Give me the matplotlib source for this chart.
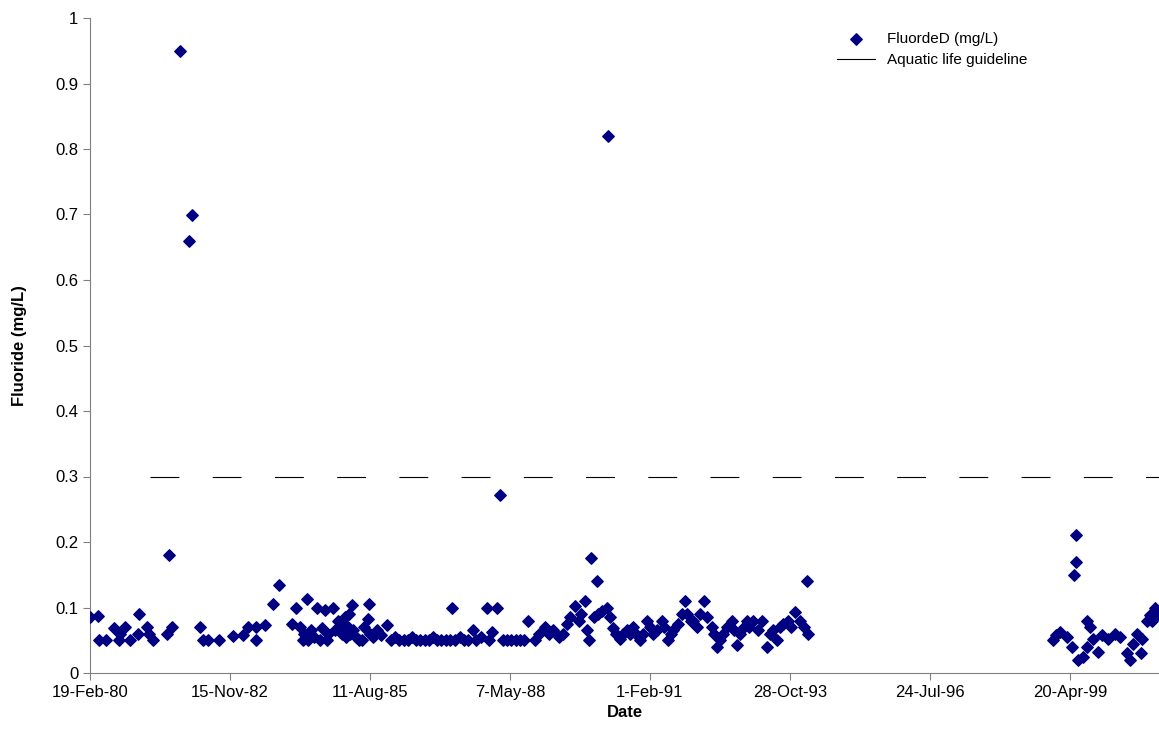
import numpy as np
import matplotlib.pyplot as plt

plt.rcParams['font.family'] = ['Liberation Sans', 'DejaVu Sans']

# days since 19-Feb-80
days = [0, 57, 64, 114, 171, 207, 214, 250, 286, 343, 350, 407, 421, 450, 550, 564, 586,
        643, 707, 729, 786, 807, 843, 921, 1021, 1093, 1129, 1186, 1186, 1250, 1307, 1350,
        1443, 1471, 1500, 1520, 1530, 1550, 1560, 1580, 1600, 1621, 1640, 1660, 1679, 1690,
        1700, 1736, 1750, 1770, 1780, 1800, 1810, 1820, 1830, 1840, 1850, 1860, 1871, 1880,
        1900, 1920, 1943, 1960, 1986, 1993, 2000, 2020, 2050, 2080, 2121, 2150, 2180, 2210,
        2240, 2270, 2300, 2330, 2360, 2390, 2420, 2450, 2480, 2510, 2540, 2570, 2586, 2610,
        2640, 2670, 2700, 2736, 2760, 2790, 2836, 2850, 2871, 2907, 2929, 2950, 2980, 3010,
        3040, 3070, 3100, 3129, 3179, 3210, 3250, 3280, 3307, 3350, 3380, 3407, 3429, 3464,
        3490, 3510, 3536, 3550, 3564, 3579, 3600, 3621, 3629, 3660, 3693, 3700, 3714, 3736,
        3760, 3786, 3810, 3836, 3860, 3879, 3900, 3929, 3950, 3979, 4000, 4021, 4050, 4086,
        4100, 4129, 4150, 4164, 4200, 4230, 4250, 4264, 4290, 4307, 4336, 4360, 4386, 4407,
        4443, 4460, 4479, 4500, 4520, 4550, 4586, 4600, 4621, 4643, 4670, 4693, 4710, 4736,
        4770, 4800, 4836, 4857, 4879, 4907, 4930, 4950, 4986, 5010, 5036, 5071, 5100, 5121,
        5129,
        6879, 6900, 6929, 6979, 7014, 7029, 7043, 7043, 7057, 7093, 7121, 7143, 7121, 7164,
        7200, 7229, 7271, 7321, 7357, 7407, 7429, 7450, 7479, 7507, 7514, 7550, 7571, 7586,
        7607, 7630]
fluoride = [0.086, 0.087, 0.05, 0.05, 0.069, 0.05, 0.06, 0.07, 0.05, 0.06, 0.09, 0.07, 0.06,
            0.05, 0.06, 0.18, 0.07, 0.95, 0.66, 0.7, 0.07, 0.05, 0.05, 0.05, 0.057, 0.058,
            0.07, 0.05, 0.07, 0.074, 0.105, 0.135, 0.075, 0.1, 0.07, 0.05, 0.06, 0.113, 0.05,
            0.065, 0.055, 0.1, 0.05, 0.068, 0.096, 0.05, 0.06, 0.1, 0.065, 0.08, 0.07, 0.06,
            0.075, 0.085, 0.055, 0.07, 0.09, 0.06, 0.104, 0.065, 0.055, 0.05, 0.05, 0.07,
            0.083, 0.106, 0.06, 0.055, 0.065, 0.058, 0.073, 0.05, 0.055, 0.05, 0.05, 0.05,
            0.055, 0.05, 0.05, 0.05, 0.05, 0.055, 0.05, 0.05, 0.05, 0.05, 0.1, 0.05, 0.055,
            0.05, 0.05, 0.065, 0.05, 0.055, 0.1, 0.05, 0.063, 0.1, 0.272, 0.05, 0.05, 0.05,
            0.05, 0.05, 0.05, 0.08, 0.05, 0.06, 0.07, 0.06, 0.065, 0.055, 0.06, 0.075, 0.085,
            0.103, 0.08, 0.09, 0.11, 0.065, 0.05, 0.175, 0.085, 0.14, 0.09, 0.095, 0.1, 0.82,
            0.085, 0.068, 0.06, 0.052, 0.06, 0.065, 0.06, 0.07, 0.06, 0.05, 0.06, 0.08, 0.07,
            0.06, 0.065, 0.08, 0.07, 0.05, 0.06, 0.065, 0.075, 0.09, 0.11, 0.09, 0.08, 0.08,
            0.07, 0.09, 0.11, 0.085, 0.07, 0.06, 0.04, 0.05, 0.06, 0.07, 0.08, 0.065, 0.042,
            0.06, 0.07, 0.08, 0.07, 0.08, 0.065, 0.08, 0.04, 0.06, 0.065, 0.05, 0.07, 0.075,
            0.08, 0.07, 0.093, 0.08, 0.07, 0.14, 0.06,
            0.05, 0.058, 0.063, 0.055, 0.04, 0.15, 0.21, 0.17, 0.02, 0.025, 0.08, 0.07, 0.04,
            0.052, 0.032, 0.058, 0.052, 0.06, 0.055, 0.03, 0.02, 0.045, 0.06, 0.03, 0.052,
            0.08, 0.088, 0.08, 0.1, 0.09]

guideline = 0.3
guide_start = 429
tick_days = [0, 1000, 2000, 3000, 4000, 5000, 6000, 7000]
tick_labels = ['19-Feb-80', '15-Nov-82', '11-Aug-85', '7-May-88', '1-Feb-91',
               '28-Oct-93', '24-Jul-96', '20-Apr-99']

fig = plt.figure(figsize=(11.59, 7.49), dpi=100)
ax = fig.add_axes([90/1159, 76/749, 1069/1159, 655/749])

ax.scatter(days, fluoride, marker='D', s=34, color='#000080', label='FluordeD (mg/L)', zorder=3)
ax.plot([guide_start, 7636], [guideline, guideline], color='black', lw=0.8,
        dashes=(26, 30), dash_capstyle='butt', label='Aquatic life guideline')

ax.set_xlim(0, 7636)
ax.set_ylim(0, 1)
ax.set_xticks(tick_days)
ax.set_xticklabels(tick_labels, fontsize=12)
ax.set_yticks(np.arange(0, 1.01, 0.1))
ax.set_yticklabels(['0', '0.1', '0.2', '0.3', '0.4', '0.5', '0.6', '0.7', '0.8', '0.9', '1'],
                   fontsize=12)
ax.tick_params(direction='out', length=5, color='#808080')
for s in ['top', 'right']:
    ax.spines[s].set_visible(False)
for s in ['left', 'bottom']:
    ax.spines[s].set_color('#808080')
ax.set_xlabel('Date', fontsize=12, fontweight='bold')
ax.set_ylabel('Fluoride (mg/L)', fontsize=12, fontweight='bold', labelpad=20)

leg = ax.legend(loc='upper right', bbox_to_anchor=(0.89, 1.0), frameon=False, fontsize=11,
                handlelength=2.5)
leg.get_lines()[0].set_linestyle('-')

fig.savefig('out.png')
